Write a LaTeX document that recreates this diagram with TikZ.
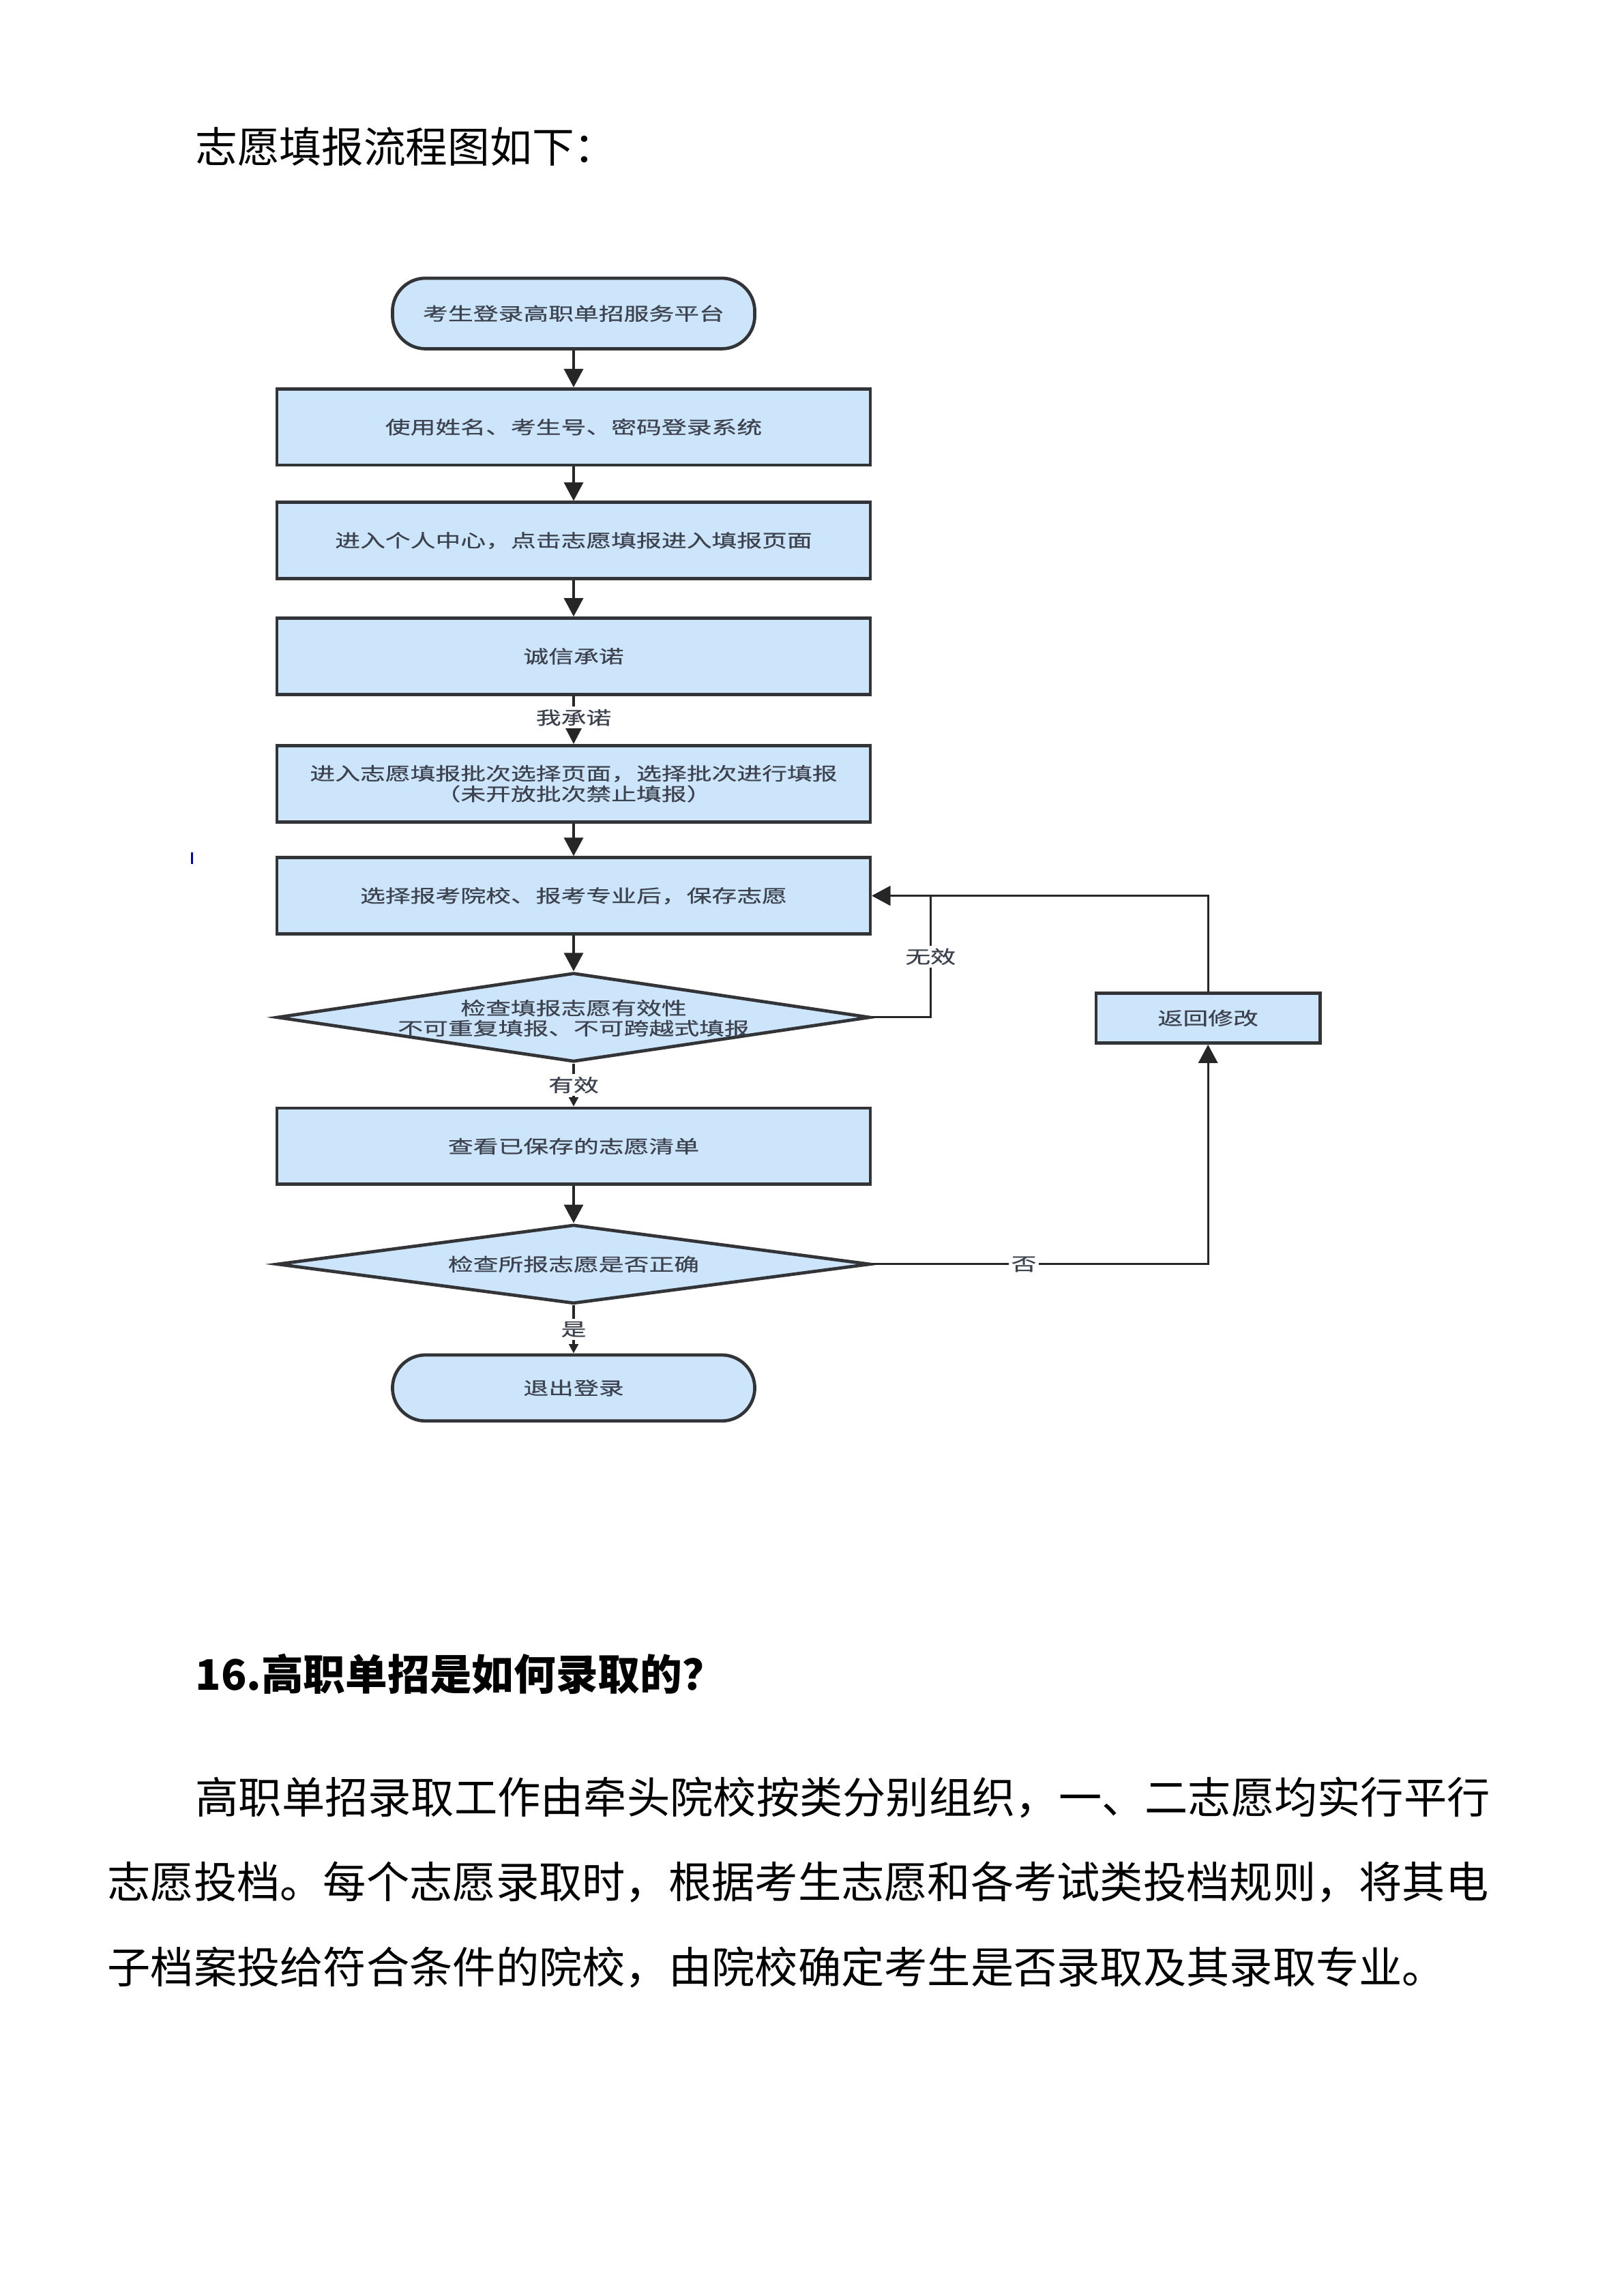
\documentclass[tikz,border=0pt]{standalone}
\usepackage{fontspec}
\usepackage{xcolor}
\usepackage{tikz}
\usetikzlibrary{shapes.geometric,arrows.meta}
\newfontfamily\cjk{Noto Sans CJK SC}
\newfontfamily\cjkwide[FakeStretch=1.4,FakeBold=0.6]{Noto Sans CJK SC}
\definecolor{boxblue}{RGB}{205,229,250}
\definecolor{boxline}{RGB}{50,52,56}
\definecolor{boxtext}{RGB}{60,66,78}

\tikzset{
  boxfont/.style={font=\cjkwide\fontsize{6.65}{8.2}\selectfont},
  proc/.style={draw=boxline, line width=1.2pt, fill=boxblue, minimum width=77.3mm, minimum height=9.93mm,
    inner sep=1pt, align=center, text=boxtext, boxfont},
  term/.style={proc, rounded corners=4.3mm, minimum width=47.2mm, minimum height=9.2mm},
  decision/.style={proc, diamond, minimum width=77.3mm, minimum height=11.6mm, inner sep=0pt},
  flow/.style={line width=0.8pt, draw=black!85, -{Triangle[length=2.4mm,width=2.5mm]}},
  smallflow/.style={flow, -{Triangle[length=1.2mm,width=1.2mm]}},
  lbl/.style={fill=white, inner sep=1pt, text=boxtext, boxfont},
  body/.style={anchor=west, inner sep=0pt, font=\cjk\fontsize{16}{20}\selectfont},
}

\begin{document}
\begin{tikzpicture}[x=0.1909mm,y=0.1909mm,yscale=-1]
\useasboundingbox (0,0) rectangle (1108.3,1567.4);

% Text Node
\node[body, font=\cjk\fontsize{15.6}{20}\selectfont] (title) at (133,100) {志愿填报流程图如下：};

% flow chart
\node[term] (start) at (391.5,214) {考生登录高职单招服务平台};
\node[proc] (login) at (391.5,291.5) {使用姓名、考生号、密码登录系统};
\node[proc] (center) at (391.5,369) {进入个人中心，点击志愿填报进入填报页面};
\node[proc] (promise) at (391.5,448) {诚信承诺};
\node[proc] (batch) at (391.5,535) {进入志愿填报批次选择页面，选择批次进行填报\\[-0.6pt]（未开放批次禁止填报）};
\node[proc] (save) at (391.5,611.5) {选择报考院校、报考专业后，保存志愿};
\node[decision] (check) at (391.5,694.5) {};
\node[boxfont, text=boxtext, align=center, inner sep=0pt] (checktext) at (391.5,695)
  {检查填报志愿有效性\\[-0.7pt]不可重复填报、不可跨越式填报};
\node[proc] (list) at (391.5,782.5) {查看已保存的志愿清单};
\node[decision, minimum height=10.3mm] (verify) at (391.5,863) {};
\node[boxfont, text=boxtext, inner sep=0pt] (verifytext) at (391.5,863) {检查所报志愿是否正确};
\node[term, minimum height=8.6mm] (logout) at (391.5,947.5) {退出登录};
\node[proc, minimum width=29.2mm, minimum height=6.5mm] (back) at (824.5,695) {返回修改};

% connectors
\draw[flow] (start.south) -- (login.north);
\draw[flow] (login.south) -- (center.north);
\draw[flow] (center.south) -- (promise.north);
\draw[flow, -{Triangle[length=2.1mm,width=2.1mm]}] (promise.south) -- node[lbl, pos=0.45] {我承诺} (batch.north);
\draw[flow] (batch.south) -- (save.north);
\draw[flow] (save.south) -- (check.north);
\draw[smallflow] (check.south) -- node[lbl, pos=0.5] {有效} (list.north);
\draw[flow] (list.south) -- (verify.north);
\draw[smallflow] (verify.south) -- node[lbl, pos=0.5] {是} (logout.north);
\draw[flow] (check.east) -- ++(40,0) |- node[pos=0.25,lbl] {无效} (save.east);
\draw[flow] (verify.east) -| node[pos=0.226,lbl] {否} (back.south);
\draw[flow] (back.north) |- (save.east);

\draw[blue!70!black, line width=0.6pt] (131,582) -- (131,590);

% Text Node
\node[body, font=\cjk\bfseries\fontsize{15.6}{20}\selectfont] (question) at (133,1143) {16.高职单招是如何录取的？};
\node[body] (para1) at (133,1227) {高职单招录取工作由牵头院校按类分别组织，一、二志愿均实行平行};
\node[body] (para2) at (73,1285) {志愿投档。每个志愿录取时，根据考生志愿和各考试类投档规则，将其电};
\node[body] (para3) at (73,1343) {子档案投给符合条件的院校，由院校确定考生是否录取及其录取专业。};
\end{tikzpicture}
\end{document}
